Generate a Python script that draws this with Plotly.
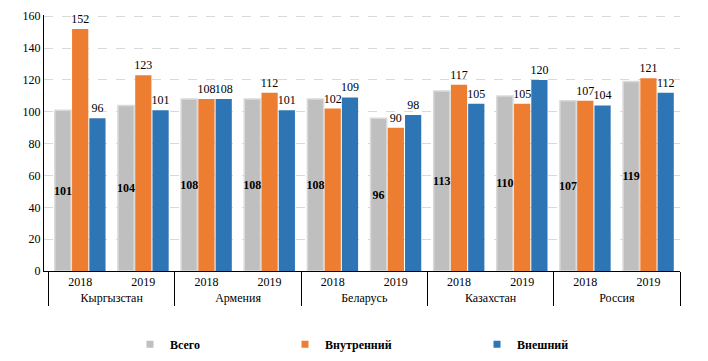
import plotly.graph_objects as go

countries = ["Кыргызстан", "Кыргызстан", "Армения", "Армения", "Беларусь", "Беларусь",
             "Казахстан", "Казахстан", "Россия", "Россия"]
years = ["2018", "2019"] * 5
total = [101, 104, 108, 108, 108, 96, 113, 110, 107, 119]
internal = [152, 123, 108, 112, 102, 90, 117, 105, 107, 121]
external = [96, 101, 108, 101, 109, 98, 105, 120, 104, 112]
series_names = ["Всего", "Внутренний", "Внешний"]
colors = ["#bfbfbf", "#ed7d31", "#2e75b6"]

FONT = "Liberation Serif"
FS = 12
x = [countries, years]

fig = go.Figure()
fig.add_trace(go.Bar(
    x=x, y=total, name=series_names[0], showlegend=False,
    marker=dict(color=colors[0], line=dict(color="#dadada", width=1.5)),
    texttemplate="<b>%{y}</b>", textposition="inside", insidetextanchor="middle",
    textangle=0, constraintext="none",
    textfont=dict(family=FONT, size=FS, color="black"),
))
fig.add_trace(go.Bar(
    x=x, y=internal, name=series_names[1], showlegend=False,
    marker=dict(color=colors[1], line=dict(width=0)),
    texttemplate="%{y}", textposition="outside", constraintext="none",
    textfont=dict(family=FONT, size=FS, color="black"), cliponaxis=False,
))
fig.add_trace(go.Bar(
    x=x, y=external, name=series_names[2], showlegend=False,
    marker=dict(color=colors[2], line=dict(width=0)),
    texttemplate="%{y}", textposition="outside", constraintext="none",
    textfont=dict(family=FONT, size=FS, color="black"), cliponaxis=False,
))

for i, (nm, c) in enumerate(zip(series_names, colors)):
    fig.add_trace(go.Scatter(
        x=[[countries[0]], [years[0]]], y=[None], mode="markers", name=nm,
        marker=dict(symbol="square", size=7, color=c),
        legend="legend" if i == 0 else f"legend{i + 1}", showlegend=True,
        hoverinfo="skip",
    ))

leg = dict(orientation="h", yanchor="middle", y=-(344 - 271) / 255, xanchor="left",
           font=dict(family=FONT, size=FS, color="black", weight="bold"),
           bgcolor="rgba(0,0,0,0)", itemwidth=30, tracegroupgap=0)
fig.update_layout(
    width=708, height=361,
    margin=dict(l=44, r=28, t=15, b=90, autoexpand=False),
    paper_bgcolor="white", plot_bgcolor="white",
    barmode="group", bargap=0.18, bargroupgap=0.06,
    font=dict(family=FONT, size=FS, color="black"),
    legend=dict(leg, x=(130 - 44) / 636),
    legend2=dict(leg, x=(285 - 44) / 636),
    legend3=dict(leg, x=(477 - 44) / 636),
    showlegend=True,
)
fig.update_yaxes(range=[0, 160.8], tickvals=[0, 20, 40, 60, 80, 100, 120, 140, 160],
                 showgrid=True, gridcolor="#d9d9d9",
                 griddash="dash", gridwidth=1, showline=True, linecolor="black",
                 linewidth=1, ticks="", zeroline=False, automargin=False,
                 tickfont=dict(family=FONT, size=FS, color="black"))
fig.update_xaxes(type="multicategory", showline=True, linecolor="black", linewidth=1,
                 showdividers=True, dividercolor="black", dividerwidth=1,
                 ticks="", automargin=False,
                 tickfont=dict(family=FONT, size=FS, color="black"))

fig.write_html("out.html", config={"displayModeBar": False},
               post_script="document.body.style.margin='0';document.body.style.overflow='hidden';")
